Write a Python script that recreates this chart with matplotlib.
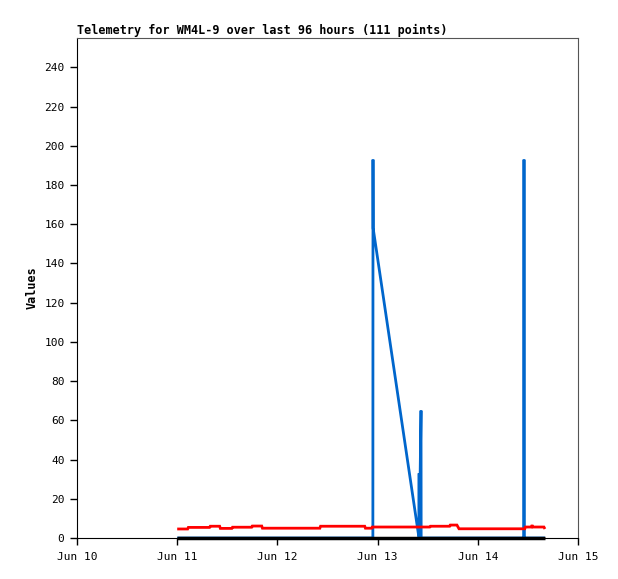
import pandas as pd
import matplotlib
matplotlib.use("Agg")
import matplotlib.pyplot as plt
import matplotlib.dates as mdates

# =========================
# Data
# =========================
red_times = [
    "2024-06-11 00:00", "2024-06-11 02:30", "2024-06-11 02:40", "2024-06-11 07:45",
    "2024-06-11 07:55", "2024-06-11 10:10", "2024-06-11 10:20", "2024-06-11 13:05",
    "2024-06-11 13:15", "2024-06-11 17:50", "2024-06-11 18:00", "2024-06-11 20:15",
    "2024-06-11 20:25", "2024-06-12 10:10", "2024-06-12 10:20", "2024-06-12 20:55",
    "2024-06-12 21:05", "2024-06-12 22:35", "2024-06-12 22:45", "2024-06-13 12:30",
    "2024-06-13 12:40", "2024-06-13 17:15", "2024-06-13 17:25", "2024-06-13 19:00",
    "2024-06-13 19:30", "2024-06-14 11:15", "2024-06-14 11:25", "2024-06-14 12:50",
    "2024-06-14 13:00", "2024-06-14 13:10", "2024-06-14 15:50", "2024-06-14 16:05",
]
red_values = [
    4.6, 4.6, 5.4, 5.4,
    6.0, 6.0, 4.9, 4.9,
    5.5, 5.5, 6.1, 6.1,
    5.0, 5.0, 6.0, 6.0,
    5.0, 5.0, 5.6, 5.6,
    6.0, 6.0, 6.6, 6.6,
    4.7, 4.7, 5.6, 5.6,
    6.6, 5.6, 5.6, 4.6,
]

blue_times = [
    "2024-06-11 00:00", "2024-06-12 22:52", "2024-06-12 22:54", "2024-06-12 22:56",
    "2024-06-13 09:55", "2024-06-13 09:57", "2024-06-13 09:59", "2024-06-13 10:24",
    "2024-06-13 10:26", "2024-06-14 11:02", "2024-06-14 11:04", "2024-06-14 11:06",
    "2024-06-14 16:05",
]
blue_values = [
    0, 0, 193, 158,
    0, 33, 0, 65,
    0, 0, 193, 0,
    0,
]

black_times = ["2024-06-11 00:00", "2024-06-14 16:05"]
black_values = [0, 0]

title = "Telemetry for WM4L-9 over last 96 hours (111 points)"

# =========================
# Plot
# =========================
plt.rcParams["font.family"] = ["DejaVu Sans Mono"]

fig = plt.figure(figsize=(6.18, 5.79), dpi=100)
ax = fig.add_axes([77 / 618, 1 - 538 / 579, 501 / 618, 500 / 579])

line_kw = dict(linewidth=2.0, solid_capstyle="butt", solid_joinstyle="miter")
ax.plot(pd.to_datetime(blue_times), blue_values, color="#0066cc", zorder=2, **line_kw)
ax.plot(pd.to_datetime(red_times), red_values, color="#ff0000", zorder=3, **line_kw)
ax.plot(pd.to_datetime(black_times), black_values, color="black", zorder=4,
        clip_on=False, linewidth=2.5, solid_capstyle="butt")

ax.set_xlim(pd.Timestamp("2024-06-10"), pd.Timestamp("2024-06-15"))
ax.set_ylim(0, 255)
ax.set_yticks(range(0, 241, 20))
ax.xaxis.set_major_locator(mdates.DayLocator())
ax.xaxis.set_major_formatter(mdates.DateFormatter("%b %-d"))

ax.tick_params(axis="both", direction="out", length=5, width=1, labelsize=8, colors="black")
ax.tick_params(axis="y", pad=4)
ax.tick_params(axis="x", pad=5)

for side in ["top", "right"]:
    ax.spines[side].set_color("#555555")
for side in ["left", "bottom"]:
    ax.spines[side].set_color("black")

ax.set_ylabel("Values", fontsize=8.5, fontweight="bold", labelpad=4)
ax.set_title(title, fontsize=8.5, fontweight="bold", loc="left", pad=3)

fig.savefig("out.png", dpi=100)
